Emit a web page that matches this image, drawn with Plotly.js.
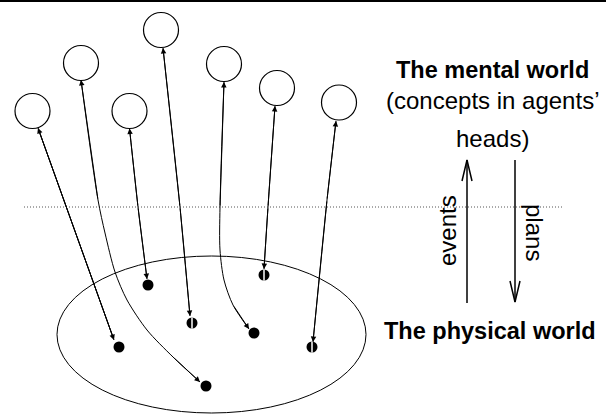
<!DOCTYPE html>
<html>
<head>
<meta charset="utf-8">
<script src="https://cdn.plot.ly/plotly-3.0.1.min.js"></script>
<style>html,body{margin:0;padding:0;background:#fff;}#chart{width:606px;height:414px;}</style>
</head>
<body>
<div id="chart"></div>
<script>
// Mental-world concepts (open circles), pixel space of the figure
const mentalX = [32.5, 81, 129.5, 161, 224, 277, 339];
const mentalY = [111, 63, 111, 30, 64, 88, 102.5];

// Physical-world things (black dots); some are "half" dots with a white stripe
const physX = [119, 206, 148, 192, 254, 264, 312];
const physY = [347, 386, 285, 323, 333, 275, 347];
const physHalf = [false, false, false, true, false, true, true];

// Links between each concept and its physical thing (waypoints, concept end first)
const link1X = [38, 114];
const link1Y = [128, 340];
const link2X = [81, 98, 105, 115, 127, 147, 173, 200];
const link2Y = [80, 200, 233, 272, 300, 330, 357, 382];
const link3X = [129.5, 138, 147];
const link3Y = [128.5, 207, 279];
const link4X = [163, 180, 190];
const link4Y = [48, 207, 316];
const link5X = [224, 220, 220, 224, 233, 249];
const link5Y = [82, 207, 250, 280, 305, 329];
const link6X = [275, 268, 264];
const link6Y = [106, 207, 269];
const link7X = [336, 327, 313];
const link7Y = [121, 200, 342];

// Boundary between worlds (dotted line)
const boundaryX = [24, 563];
const boundaryY = [207, 207];

// Physical world ellipse bounds
const ellipseX = [57, 366];
const ellipseY = [256, 413];

// Events (up) and plans (down) arrows
const eventsX = [467, 467];
const eventsY = [303, 160];
const plansX = [515, 515];
const plansY = [160, 302];

// Labels
const labelTexts = ['<b>The mental world</b>', '(concepts in agents\u2019', 'heads)', '<b>The physical world</b>'];
const labelX = [492, 492, 492, 490];
const labelY = [70, 100, 138, 331];
const labelSize = [23.5, 24, 24, 23.5];
const sideTexts = ['events', 'plans'];
const sideX = [447, 535];
const sideY = [231, 232];
const sideAngle = [-90, 90];

const links = [[link1X, link1Y], [link2X, link2Y], [link3X, link3Y], [link4X, link4Y],
               [link5X, link5Y], [link6X, link6Y], [link7X, link7Y]];

const traces = [];
const annotations = [];

// dotted boundary
traces.push({x: boundaryX, y: boundaryY, mode: 'lines', line: {color: '#555', width: 1, dash: '1px,2px'}, hoverinfo: 'skip'});

// link curves
links.forEach(([lx, ly]) => {
  traces.push({x: lx, y: ly, mode: 'lines', line: {color: '#000', width: 1, shape: 'spline', smoothing: 0.8}, hoverinfo: 'skip'});
  const n = lx.length;
  annotations.push({x: lx[0], y: ly[0], ax: lx[1], ay: ly[1], xref: 'x', yref: 'y', axref: 'x', ayref: 'y',
    text: '', showarrow: true, arrowhead: 2, arrowsize: 1.1, arrowwidth: 1, arrowcolor: '#000', standoff: 0});
  annotations.push({x: lx[n - 1], y: ly[n - 1], ax: lx[n - 2], ay: ly[n - 2], xref: 'x', yref: 'y', axref: 'x', ayref: 'y',
    text: '', showarrow: true, arrowhead: 2, arrowsize: 1.1, arrowwidth: 1, arrowcolor: '#000', standoff: 0});
});

// concept circles
traces.push({x: mentalX, y: mentalY, mode: 'markers', marker: {symbol: 'circle', size: 35, color: 'rgba(255,255,255,0)', line: {color: '#000', width: 1.2}}, hoverinfo: 'skip'});

// physical dots
traces.push({x: physX, y: physY, mode: 'markers', marker: {symbol: 'circle', size: 11, color: '#000', line: {width: 0}}, hoverinfo: 'skip'});
const stripeX = physX.filter((v, i) => physHalf[i]);
const stripeY = physY.filter((v, i) => physHalf[i]);
traces.push({x: stripeX, y: stripeY, mode: 'markers', marker: {symbol: 'line-ns', size: 8, color: '#fff', line: {color: '#fff', width: 1.5}}, hoverinfo: 'skip'});

// events arrow (shaft + open V head)
traces.push({x: eventsX, y: eventsY, mode: 'lines', line: {color: '#000', width: 1.5}, hoverinfo: 'skip'});
traces.push({x: [eventsX[1] - 5, eventsX[1], eventsX[1] + 5], y: [eventsY[1] + 21, eventsY[1], eventsY[1] + 21], mode: 'lines', line: {color: '#000', width: 1.5}, hoverinfo: 'skip'});
// plans arrow
traces.push({x: plansX, y: plansY, mode: 'lines', line: {color: '#000', width: 1.5}, hoverinfo: 'skip'});
traces.push({x: [plansX[1] - 5, plansX[1], plansX[1] + 5], y: [plansY[1] - 21, plansY[1], plansY[1] - 21], mode: 'lines', line: {color: '#000', width: 1.5}, hoverinfo: 'skip'});

// labels
labelTexts.forEach((t, i) => {
  annotations.push({x: labelX[i], y: labelY[i], xref: 'x', yref: 'y', text: t, showarrow: false,
    xanchor: 'center', yanchor: 'middle', font: {family: 'Liberation Sans, Arial, sans-serif', size: labelSize[i], color: '#000'}});
});
sideTexts.forEach((t, i) => {
  annotations.push({x: sideX[i], y: sideY[i], xref: 'x', yref: 'y', text: t, showarrow: false, textangle: sideAngle[i],
    xanchor: 'center', yanchor: 'middle', font: {family: 'Liberation Sans, Arial, sans-serif', size: 24, color: '#000'}});
});

const layout = {
  width: 606, height: 414,
  margin: {l: 0, r: 0, t: 0, b: 0},
  paper_bgcolor: '#fff', plot_bgcolor: '#fff',
  showlegend: false,
  xaxis: {range: [0, 606], visible: false, fixedrange: true},
  yaxis: {range: [414, 0], visible: false, fixedrange: true},
  shapes: [
    {type: 'line', xref: 'x', yref: 'y', x0: 0, x1: 606, y0: 1, y1: 1, line: {color: '#000', width: 2}},
    {type: 'circle', xref: 'x', yref: 'y', x0: ellipseX[0], x1: ellipseX[1], y0: ellipseY[0], y1: ellipseY[1], line: {color: '#000', width: 1}, layer: 'below'}
  ],
  annotations: annotations
};

Plotly.newPlot('chart', traces, layout, {staticPlot: true, displayModeBar: false});
</script>
</body>
</html>
